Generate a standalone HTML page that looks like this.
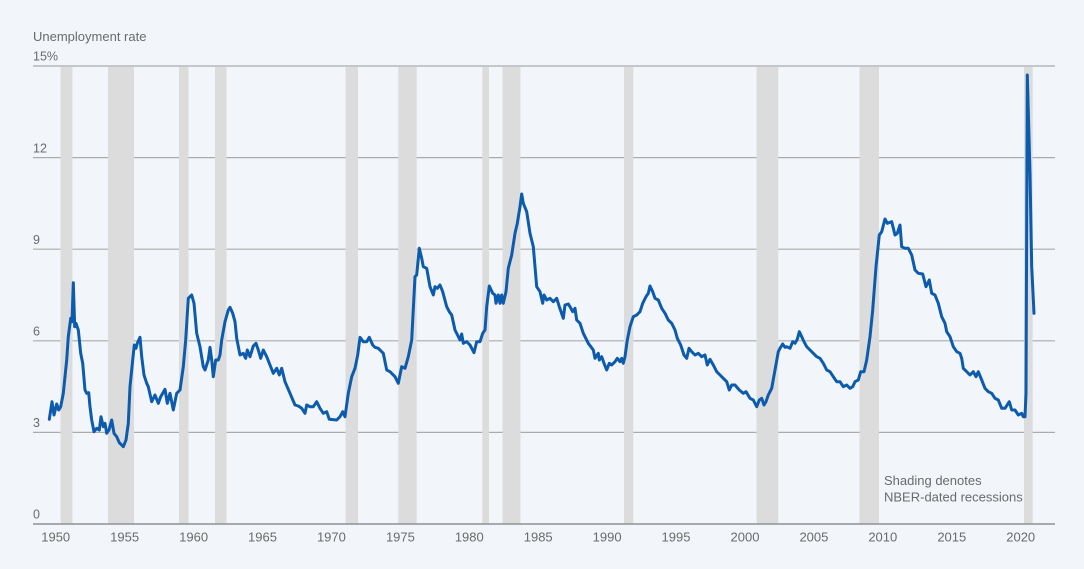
<!DOCTYPE html>
<html>
<head>
<meta charset="utf-8">
<style>
  html,body{margin:0;padding:0;background:#f2f6fa;}
  svg{display:block;}
  text{font-family:"Liberation Sans",sans-serif;fill:#6a6a6a;}
</style>
</head>
<body>
<svg width="1084" height="569" viewBox="0 0 1084 569" xmlns="http://www.w3.org/2000/svg">
  <rect x="0" y="0" width="1084" height="569" fill="#f2f6fa"/>
  <!-- gridlines -->
  <g stroke="#a9abad" stroke-width="1.2">
    <line x1="33" y1="66" x2="1055" y2="66"/>
    <line x1="33" y1="157.6" x2="1055" y2="157.6"/>
    <line x1="33" y1="249.2" x2="1055" y2="249.2"/>
    <line x1="33" y1="340.8" x2="1055" y2="340.8"/>
    <line x1="33" y1="432.4" x2="1055" y2="432.4"/>
  </g>
  <!-- recession bands -->
  <g fill="#dcdcdc">
    <rect x="60.5" y="67" width="12" height="457"/>
    <rect x="108" y="67" width="26" height="457"/>
    <rect x="179" y="67" width="9.5" height="457"/>
    <rect x="215" y="67" width="11.5" height="457"/>
    <rect x="345.5" y="67" width="12.5" height="457"/>
    <rect x="398.3" y="67" width="18.4" height="457"/>
    <rect x="482.3" y="67" width="6.7" height="457"/>
    <rect x="502.5" y="67" width="18" height="457"/>
    <rect x="624" y="67" width="9.3" height="457"/>
    <rect x="756.5" y="67" width="21.8" height="457"/>
    <rect x="859.5" y="67" width="19.5" height="457"/>
    <rect x="1024" y="67" width="8.7" height="457"/>
  </g>
  <!-- axis -->
  <line x1="33" y1="524" x2="1055" y2="524" stroke="#8e9093" stroke-width="1.5"/>
  <!-- y labels -->
  <text x="33" y="41" font-size="13">Unemployment rate</text>
  <text x="33" y="60.5" font-size="12.5">15%</text>
  <text x="33" y="152.5" font-size="12.5">12</text>
  <text x="33" y="244" font-size="12.5">9</text>
  <text x="33" y="335.5" font-size="12.5">6</text>
  <text x="33" y="427" font-size="12.5">3</text>
  <text x="33" y="518.5" font-size="12.5">0</text>
  <!-- x labels -->
  <g font-size="13" text-anchor="middle">
    <text x="55.7" y="541.5">1950</text>
    <text x="124.6" y="541.5">1955</text>
    <text x="193.6" y="541.5">1960</text>
    <text x="262.5" y="541.5">1965</text>
    <text x="331.4" y="541.5">1970</text>
    <text x="400.4" y="541.5">1975</text>
    <text x="469.3" y="541.5">1980</text>
    <text x="538.2" y="541.5">1985</text>
    <text x="607.1" y="541.5">1990</text>
    <text x="676" y="541.5">1995</text>
    <text x="745" y="541.5">2000</text>
    <text x="813.9" y="541.5">2005</text>
    <text x="882.8" y="541.5">2010</text>
    <text x="951.8" y="541.5">2015</text>
    <text x="1020.7" y="541.5">2020</text>
  </g>
  <text x="884" y="485" font-size="13">Shading denotes</text>
  <text x="884" y="501.5" font-size="13">NBER-dated recessions</text>
  <!-- series -->
  <polyline fill="none" stroke="#0d5bac" stroke-width="3" stroke-linejoin="round" stroke-linecap="round" points="
49.3,419.3 52,401.7 54,415 56.7,404 58.7,410 60.7,406.7 63.3,393.3 66.7,360 68.3,336.7 70.7,318.3 72,321.7 73.3,282.7 74.7,326.7 76,323.3 78.3,330 80.7,353.3 82.7,363.3 85,390 86.7,393.3 88.7,392.7 90,406.7 91.7,420 94,431.7 96.7,428.3 99.3,430 101,416.7 103.3,426.7 105,423.3 106.7,433.3 109,430 111.7,420 114,433.3 116.7,436.7 119.3,442.7 121.7,445 123.3,446.7 126,440 128.3,423.3 130,386.7 132.7,360 134.3,345 136,348.3 137.3,343.3 140,337.3 141.7,356.7 144,375 146.7,383.3 148.3,386.7 151.7,401.7 155,395 158.3,403.3 160.7,396.7 165,389.3 167.3,403.3 170,393.3 173.3,410 176.7,393.3 180,390 183.3,366.7 185.7,340 188.3,298.3 191.7,295 194,303.3 196.7,333.3 200,346.7 203.3,366.7 205,370 208.3,360 210,347.3 211.7,360 213.3,376.7 215.7,360 218.3,360 220,355 221.7,340 225,321.7 228.3,310 230,307.3 232.7,313.3 235,321.7 236.7,338.3 240,355
243.3,353.3 245.7,358.3 247.3,350 250,356.7 253.3,346 256,343.3 258.3,350 260.7,358.3 263.3,350 266.7,356.7 270,365 273.3,373.3 276.7,368.3 279.3,375 281.7,368.3 285,381.7 290,393.3 295,405 298.3,406 301.7,408.3 305,413.3 306.7,405 310,406.7 313.3,406.7 316.7,401.7 320,408.3 323.3,413.3 326.7,411.7 329.3,419.3 336.7,420 340,416.7 342.7,411.7 345,416.7 348.3,393.3 351.7,376.7 355,368.3 357.7,355 360,337.3 363.3,341.7 366.7,341.7 369.3,337.3 372.7,345 375,347.3 378.3,348.3 383.3,353.3 386.7,370 390,371.7 395,376.7 398.3,383.3 401.7,366.7 405,368.3 408.3,356.7 411.7,340 415,276.7 416.7,275
419.3,248.3 421.7,258.3 423.3,266.7 426.7,268.3 430,286.7 433.3,295 435,286.7 437.3,288.3 440,285 442.7,291.7 446.7,306.7 449.3,311.7 451.7,315 455,330 460,340 461.7,334 463.3,343.3 466.7,341.7 470,345 474,352.7 476.7,341.7 480,341.7 482.7,333.3 485,330 486.7,306.7 489.3,286 492.7,293.3 495,295 496,303.3 498.3,295 500,303.3 501.7,295 503.3,303.3 506,291.7 508.3,268.3 511.7,255 515,233.3 517.3,223.3 520,206.7 521.7,194 523.3,203.3 526.7,211.7 530,233.3 533.3,246.7 536.7,286.7 540,291.7 542.7,303.3 544,295 546.7,300 550,298.3 553.3,301.7 556.7,298.3 559.3,306.7 563.3,318.3 565,305 568.3,304 570,306.7 572.7,311.7 575,308.3 576.7,320 580,323.3 583.3,333.3 588.3,343.3 593.3,350 595,358.3 598.3,353.3
599.3,360 601.7,356.7 604,363.3 606.7,370 609.3,363.3 611.7,365 615,361.7 617.3,358.3 620,361.7 621.7,358.3 623.3,363.3 625,356.7 627.3,340 630,326.7 633.3,316.7 636.7,315 640,311.7 642.7,303.3 646,296.7 648.3,293.3 650,286 652.7,291.7 655,298.3 658.3,300 661.7,308.3 665,313.3 668.3,320 671.7,323.3 675,330 677.3,338.3 680.7,345 684,355 686.7,358.3 689,348.3 691.7,351.7 695,355 698.3,353.3 701.7,356.7 705,355 707.3,365 710,359.3 713.3,365 716.7,371.7 720,375 723.3,378.3 726.7,381.7 729.3,390 731.7,385 735,385 739.3,390 743.3,393.3 746,391.7 750,398.3 753.3,400 756.7,406.7 759.3,400 761.7,398.3 764,405 766,401.7 768.3,395 771.7,388.3 775,370 778.3,351.7 780,348.3 782.7,344 785,347.3
786.7,346.7 790,348.3 792.7,341.7 795,343.3 797.3,339.3 799.3,331.7 801.7,336.7 804,341.7 806.7,346.7 810,350 813.3,353.3 816.7,356.7 820,358.3 823.3,363.3 826.7,370 830,371.7 833.3,376.7 836.7,381.7 840,381.7 843.3,386.7 846.7,385 850,388.3 852.7,386.7 855,381.7 858.3,380 860.7,371.7 864,371.7 866.7,360 870,336.7 872.7,310 876,266.7 879.3,235 881.7,231.7 885,219 887.3,223.3 891.7,221.7 895,235 897.3,233.3 900,225 901.7,246.7 905,248.3 908.3,248.3 911.7,255 915,270 918.3,273.3 922.7,274 926,286.7 929.3,280 931.7,293.3 935,295 938.3,303.3 941.7,316.7 945,323.3 946.7,331.7 950,336.7 953.3,346.7 956.7,351.7 960,353.3
961.7,358.3 963.3,368.3 966.7,371.7 970,375 973.3,371.7 976,376.7 978.3,371.7 981.7,380 985,388.3 988.3,391.7 991.7,393.3 995,398.3 998.3,400 1001.7,408.3 1005,408.3 1009.3,401.7 1011.7,410 1015,410 1018.3,415 1021.7,413.3 1023.3,416.7 1025,416.7 1026,393.3 1027.3,75 1030,173.3 1031.7,266.7 1034,313.3"/>
</svg>
</body>
</html>
